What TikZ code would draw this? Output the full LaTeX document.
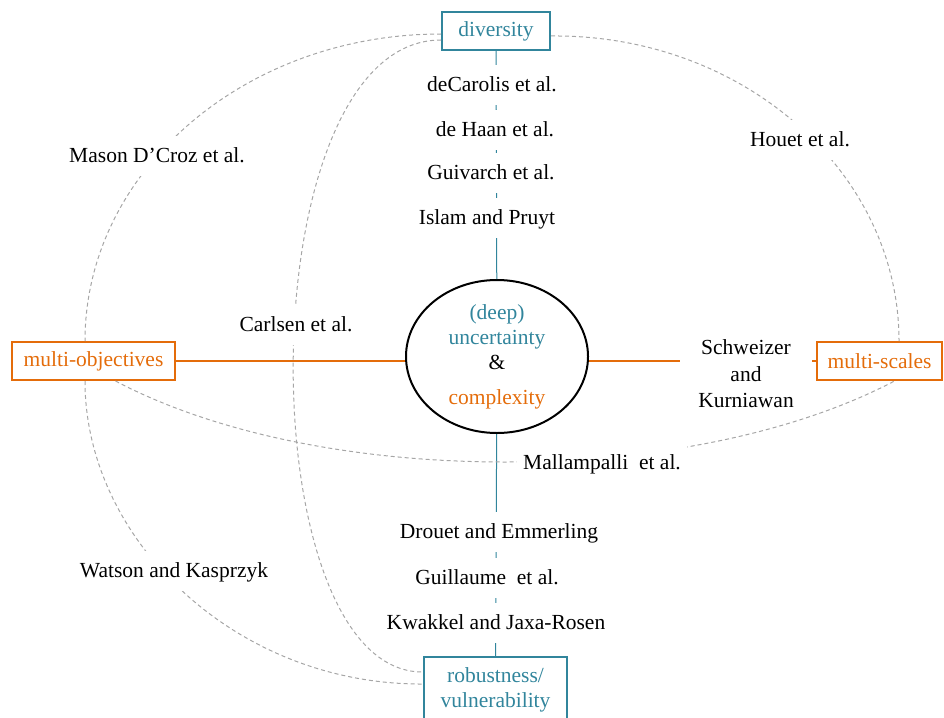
\documentclass[tikz,border=0pt]{standalone}
\usepackage{fontspec}
\setmainfont{Liberation Serif}
\usetikzlibrary{shapes.geometric}
\definecolor{tealc}{HTML}{31859C}
\definecolor{orangec}{HTML}{E46C0A}
\definecolor{grayc}{HTML}{A6A6A6}
\tikzset{
  theme/.style={draw=#1, text=#1, line width=2pt, inner sep=0pt, minimum height=38pt, align=center},
  ref/.style={fill=white, inner xsep=6pt, inner ysep=10pt, text height=16.5pt, text depth=3.5pt},
  link/.style={draw=grayc, dash pattern=on 4pt off 3pt, line width=1pt},
}
\begin{document}
\begin{tikzpicture}[x=1pt,y=-1pt,font=\fontsize{21.5}{25}\selectfont]
                      \useasboundingbox (0,0) rectangle (944,717);
                      \node[theme=tealc,minimum width=108pt](div)at(496,31){diversity};
                      \node[theme=orangec,minimum width=163pt](mobj)at(93.5,361){multi-objectives};
                      \node[theme=orangec,minimum width=125pt](msc)at(879.5,361){multi-scales};
                      \node[theme=tealc,minimum width=143pt,minimum height=65pt](rob)at(495.5,689.5){robustness/\\vulnerability};
                      \node[ellipse,draw,line width=2pt,minimum width=182pt,minimum height=153pt,inner sep=0pt,align=center](unc)at(497,356.5)
                        {\textcolor{tealc}{(deep)}\\\textcolor{tealc}{uncertainty}\\\&\\[10pt]\textcolor{orangec}{complexity}};
                      \draw[tealc,line width=1pt](div)--(unc);
                      \draw[tealc,line width=1pt](unc)--(rob);
                      \draw[orangec,line width=1.2pt](mobj.east)--(unc.west |- mobj.east);
                      \draw[orangec,line width=1.2pt](unc.east |- msc.west)--(msc.west);
                      \draw[link]([yshift=-3pt]div.west) .. controls (244,34) and (85,172) .. ([xshift=-8.5pt]mobj.north);
                      \draw[link]([yshift=-9pt]div.west) .. controls (247,40) and (247,673) .. ([yshift=-16pt]rob.north west);
                      \draw[link]([yshift=-5pt]div.east) .. controls (743,34) and (899,172) .. ([xshift=19.5pt]msc.north);
                      \draw[link]([xshift=-8.5pt]mobj.south) .. controls (85,540) and (236,685) .. ([yshift=-28pt]rob.north west);
                      \draw[link]([xshift=22pt]mobj.south) .. controls (320,489) and (689,489) .. ([xshift=15pt]msc.south);
                      \node[ref](dec)at(492,85){deCarolis et al.};
                      \node[ref](dha)at(495,130){de Haan et al.};
                      \node[ref](gui)at(491,173){Guivarch et al.};
                      \node[ref](isl)at(487,218){Islam and Pruyt};
                      \node[ref](mal)at(602,463){Mallampalli\ \ et al.};
                      \node[ref](dro)at(499,532){Drouet and Emmerling};
                      \node[ref](gul)at(487,578){Guillaume\ \ et al.};
                      \node[ref](kwa)at(496,623){Kwakkel and Jaxa-Rosen};
                      \node[ref](mas)at(157,156){Mason D’Croz et al.};
                      \node[ref](car)at(296,325){Carlsen et al.};
                      \node[ref](hou)at(800,140){Houet et al.};
                      \node[ref](wat)at(174,571){Watson and Kasprzyk};
                      \node[fill=white,align=center,inner xsep=18pt,inner ysep=4pt,font=\fontsize{21.5}{26.5}\selectfont](sch)at(746,374){Schweizer\\and\\Kurniawan};
                  \end{tikzpicture}
\end{document}
